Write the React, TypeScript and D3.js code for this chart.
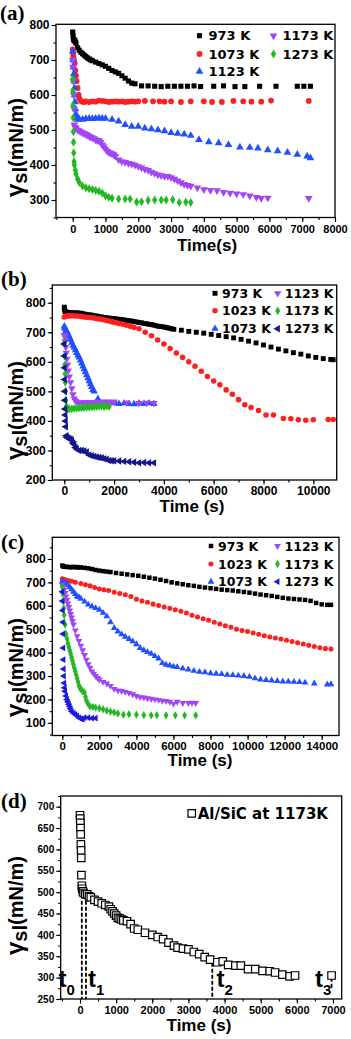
import * as d3 from "d3";
import React, { useEffect, useRef } from "react";

type Pt = [number, number];

// ---------- panel (a) ----------
const a973: Pt[] = [[0,780],[10,770],[20,760],[40,755],[60,757],[80,752],[100,748],[150,735],[200,728],[250,722],[300,718],[350,714],[400,710],[450,706],[500,703],[550,700],[600,698],[700,694],[800,690],[900,686],[1000,682],[1100,676],[1200,670],[1300,666],[1400,662],[1500,655],[1600,648],[1700,640],[1800,634],[1900,632],[2100,626],[2300,626],[2500,625],[2700,624],[2900,625],[3100,625],[3300,625],[3500,625],[3700,626],[3900,624],[4300,625],[4600,626],[4950,624],[5250,624],[5700,625],[6200,625],[6850,625],[7050,625],[7250,625]];
const a1073: Pt[] = [[0,730],[10,720],[20,710],[40,700],[60,690],[80,670],[100,655],[120,640],[150,620],[180,600],[200,590],[250,583],[300,581],[350,580],[400,582],[500,580],[600,582],[700,581],[800,584],[900,583],[1000,582],[1100,580],[1200,581],[1300,582],[1400,581],[1500,582],[1600,580],[1700,581],[1800,582],[1900,581],[2000,582],[2200,583],[2450,582],[2650,582],[2800,581],[3000,582],[3300,580],[3600,582],[4000,582],[4250,580],[4550,580],[4900,583],[5200,582],[5450,581],[5750,581],[6050,584],[7200,583]];
const a1123: Pt[] = [[0,725],[10,700],[20,680],[30,660],[40,640],[50,620],[60,600],[70,580],[80,560],[100,545],[120,535],[150,530],[200,531],[300,530],[400,532],[500,533],[600,532],[700,533],[800,534],[900,533],[1000,533],[1200,530],[1400,525],[1600,515],[1800,510],[2000,510],[2200,505],[2400,503],[2600,500],[2800,497],[3000,492],[3200,490],[3400,488],[3600,484],[3850,472],[4150,466],[4450,463],[4750,458],[5100,451],[5400,450],[5650,448],[5950,443],[6250,440],[6550,436],[6850,430],[7150,425],[7250,420]];
const a1173: Pt[] = [[0,700],[10,680],[20,640],[30,600],[40,560],[50,515],[70,508],[100,505],[150,500],[200,498],[250,495],[300,492],[350,490],[400,488],[450,485],[500,482],[550,480],[600,478],[650,476],[700,472],[750,470],[800,470],[850,465],[900,458],[950,452],[1000,446],[1050,440],[1100,436],[1150,434],[1200,432],[1250,430],[1300,425],[1400,415],[1500,410],[1600,408],[1700,405],[1800,403],[1900,400],[2000,396],[2100,392],[2200,388],[2300,385],[2400,380],[2500,376],[2600,372],[2700,370],[2800,368],[2900,368],[3000,364],[3100,360],[3200,355],[3300,350],[3400,345],[3500,342],[3600,340],[3800,335],[4000,330],[4200,328],[4400,327],[4600,322],[4800,320],[5000,318],[5200,316],[5400,312],[5600,308],[5750,305],[5950,306],[7200,305]];
const a1273: Pt[] = [[0,645],[5,610],[10,570],[15,535],[20,495],[25,465],[30,435],[40,410],[50,400],[80,385],[100,375],[150,360],[200,350],[300,340],[400,335],[500,332],[600,330],[700,327],[800,325],[900,320],[1000,312],[1100,308],[1200,305],[1400,303],[1600,303],[1750,303],[1950,294],[2100,295],[2300,299],[2500,300],[2700,300],[2850,300],[3050,301],[3250,293],[3450,294],[3600,293]];

// ---------- panel (b) ----------
const b973: Pt[] = [[0,785],[10,778],[20,772],[50,770],[100,768],[150,767],[200,767],[300,766],[400,766],[500,766],[600,765],[700,764],[800,762],[900,760],[1000,759],[1100,758],[1200,756],[1300,755],[1400,753],[1500,752],[1600,750],[1700,749],[1800,748],[1900,747],[2000,746],[2100,745],[2200,744],[2300,743],[2400,742],[2500,740],[2600,739],[2700,738],[2800,736],[2900,735],[3000,733],[3100,732],[3200,730],[3300,729],[3400,727],[3500,726],[3600,724],[3700,722],[3800,720],[3900,719],[4000,718],[4100,716],[4200,714],[4300,712],[4400,710],[4700,707],[5000,703],[5300,700],[5600,697],[5900,693],[6200,689],[6500,685],[6800,681],[7100,676],[7400,670],[7700,664],[8000,657],[8300,650],[8600,643],[8900,637],[9200,631],[9500,626],[9800,620],[10100,615],[10400,611],[10700,608],[10800,607]];
const b1023: Pt[] = [[0,752],[50,754],[100,755],[150,756],[200,755],[300,756],[400,755],[500,755],[600,754],[700,753],[800,752],[900,751],[1000,750],[1100,749],[1200,748],[1300,746],[1400,745],[1500,744],[1600,742],[1700,740],[1800,738],[1900,736],[2000,734],[2100,732],[2200,730],[2350,727],[2500,724],[2650,720],[2800,716],[3000,712],[3250,700],[3500,688],[3750,674],[4000,660],[4250,645],[4500,630],[4750,615],[5000,600],[5250,585],[5500,568],[5750,550],[6000,535],[6250,522],[6500,505],[6750,490],[7000,472],[7250,455],[7500,445],[7800,435],[8100,420],[8400,420],[8800,408],[9100,407],[9400,404],[9700,402],[10000,404],[10600,405],[10800,405]];
const b1073: Pt[] = [[0,720],[20,715],[50,710],[80,705],[120,700],[160,692],[200,685],[250,675],[300,665],[350,655],[400,648],[450,640],[500,630],[550,622],[600,615],[650,605],[700,595],[750,585],[800,575],[850,565],[900,555],[950,545],[1000,535],[1050,525],[1100,515],[1150,505],[1200,500],[1350,475],[2050,460],[2200,458],[2400,460],[2600,458],[2800,457],[3000,460],[3200,458],[3400,460],[3600,458]];
const b1123: Pt[] = [[0,690],[20,685],[40,670],[60,650],[80,630],[100,610],[130,590],[160,570],[200,550],[250,530],[300,510],[350,490],[400,475],[450,468],[500,464],[600,462],[700,462],[800,463],[900,462],[1000,463],[1100,462],[1200,463],[1300,464],[1400,464],[1500,464],[1600,464],[1700,464],[1800,464],[1900,464],[2000,464],[2500,462],[3000,460],[3300,461],[3600,460]];
const b1173: Pt[] = [[0,665],[10,620],[20,590],[30,560],[40,530],[50,500],[60,470],[80,450],[100,440],[150,442],[200,440],[300,441],[400,442],[500,443],[600,444],[700,444],[800,445],[900,446],[1000,447],[1100,447],[1200,448],[1300,448],[1400,449],[1500,450],[1600,448],[1700,450],[1800,448]];
const b1273: Pt[] = [[0,660],[5,620],[10,580],[15,540],[20,500],[25,470],[30,440],[40,420],[50,400],[60,380],[80,350],[100,345],[150,342],[200,340],[250,338],[300,335],[350,325],[400,320],[450,310],[500,305],[600,300],[700,300],[800,298],[900,295],[1000,285],[1100,282],[1200,280],[1300,278],[1400,276],[1500,275],[1600,272],[1700,270],[1800,266],[1900,265],[2000,265],[2200,264],[2400,263],[2600,262],[2800,260],[3000,258],[3200,259],[3400,258],[3600,258]];

// ---------- panel (c) ----------
const c973: Pt[] = [[0,772],[50,768],[100,767],[200,766],[300,766],[400,765],[500,765],[600,766],[700,765],[800,765],[900,764],[1000,764],[1200,762],[1400,760],[1600,757],[1800,753],[2000,750],[2200,748],[2400,746],[2600,744],[2900,740],[3200,737],[3500,734],[3800,731],[4100,728],[4400,724],[4700,720],[5000,716],[5300,711],[5600,706],[5900,700],[6200,696],[6500,692],[6800,688],[7100,685],[7400,681],[7700,678],[8000,675],[8300,672],[8600,669],[8900,667],[9200,665],[9500,662],[9800,659],[10100,656],[10400,652],[10700,648],[11000,645],[11300,642],[11600,638],[11900,634],[12200,631],[12500,629],[12800,627],[13100,625],[13400,621],[13700,612],[14000,606],[14300,604],[14500,604]];
const c1023: Pt[] = [[0,715],[100,712],[200,710],[350,707],[500,705],[700,700],[1000,695],[1250,690],[1500,685],[1750,678],[2000,672],[2250,668],[2500,665],[2800,658],[3100,652],[3400,647],[3700,640],[4000,628],[4300,620],[4600,615],[4900,607],[5200,601],[5500,595],[5800,589],[6100,583],[6400,577],[6700,569],[7000,560],[7300,552],[7600,545],[7900,538],[8200,530],[8500,522],[8800,515],[9100,508],[9400,500],[9700,494],[10000,490],[10300,484],[10600,478],[10900,472],[11200,467],[11500,462],[11800,458],[12100,453],[12400,447],[12700,442],[13000,437],[13300,431],[13600,426],[13900,421],[14200,417],[14500,415]];
const c1073: Pt[] = [[0,705],[50,700],[100,700],[200,695],[300,690],[400,680],[500,670],[600,660],[700,650],[800,640],[900,637],[1000,630],[1200,618],[1400,605],[1600,597],[1800,590],[2000,583],[2200,570],[2400,555],[2600,530],[2800,505],[3000,490],[3200,478],[3400,468],[3600,458],[3800,448],[4000,436],[4200,420],[4400,410],[4600,402],[4800,395],[5000,385],[5200,375],[5400,355],[5600,348],[5800,345],[6000,340],[6200,338],[6500,332],[6800,328],[7100,322],[7400,318],[7700,316],[8000,312],[8300,310],[8600,308],[8900,305],[9200,304],[9500,302],[9800,300],[10100,297],[10400,290],[10700,285],[11000,283],[11300,281],[11600,279],[11900,277],[12200,276],[12500,275],[12800,274],[13100,272],[13600,268],[14300,264],[14500,265]];
const c1123: Pt[] = [[0,690],[50,682],[100,670],[150,655],[200,640],[250,625],[300,610],[350,595],[400,580],[450,565],[500,550],[550,535],[600,520],[700,495],[800,470],[900,450],[1000,430],[1100,410],[1200,390],[1300,370],[1400,350],[1500,335],[1600,320],[1700,310],[1800,300],[1900,292],[2000,285],[2200,275],[2400,268],[2600,258],[2800,245],[3000,238],[3200,236],[3400,232],[3600,228],[3800,222],[4000,215],[4200,210],[4400,208],[4600,205],[4800,203],[5000,200],[5200,198],[5400,195],[5600,193],[5800,190],[6000,182],[6200,190],[6500,185],[6800,185],[7000,186],[7200,185]];
const c1173: Pt[] = [[0,680],[25,650],[50,620],[75,590],[100,560],[150,520],[200,480],[250,460],[300,440],[350,425],[400,410],[450,395],[500,380],[550,365],[600,350],[650,335],[700,320],[750,305],[800,290],[850,275],[900,260],[950,250],[1000,245],[1100,235],[1200,230],[1250,210],[1300,195],[1400,180],[1500,170],[1650,168],[1800,165],[2000,162],[2200,158],[2400,152],[2600,148],[2800,145],[3000,140],[3300,135],[3600,137],[4000,135],[4400,133],[4800,132],[5100,133],[5600,132],[6100,132],[6600,132],[7200,132]];
const c1273: Pt[] = [[0,660],[10,620],[20,580],[30,530],[40,480],[50,420],[60,370],[70,330],[80,300],[100,270],[125,250],[150,235],[200,215],[250,200],[300,190],[350,180],[400,170],[450,160],[500,150],[600,142],[700,136],[800,130],[900,122],[1000,118],[1100,115],[1200,122],[1400,122],[1600,120],[1800,120]];

// ---------- panel (d) ----------
const dAlSiC: Pt[] = [[0,680],[5,672],[10,662],[15,650],[20,635],[25,612],[30,598],[35,580],[40,540],[50,515],[60,508],[80,502],[100,498],[150,495],[200,495],[250,490],[300,488],[400,482],[500,478],[600,474],[700,470],[800,466],[850,460],[900,455],[950,450],[1000,445],[1050,440],[1100,438],[1150,436],[1200,434],[1300,432],[1400,425],[1500,415],[1600,412],[1800,405],[2000,400],[2150,395],[2300,390],[2450,382],[2600,375],[2700,370],[2850,368],[3000,366],[3150,360],[3300,355],[3450,348],[3600,342],[3800,336],[3950,338],[4100,330],[4300,328],[4450,328],[4650,320],[4850,320],[5050,316],[5250,315],[5400,312],[5600,307],[5800,303],[5950,305],[6960,305]];
const dGuideT = [50, 165, 3660, 6960];
const dGuideTop = [480, 480, 335, 300];
const dGuideBottom = [250, 250, 250, 272];
const dGuideNames = ["0", "1", "2", "3"];

// ticks
const aXTicks = [0, 1000, 2000, 3000, 4000, 5000, 6000, 7000, 8000];
const aYTicks = [300, 400, 500, 600, 700, 800];
const bXTicks = [0, 2000, 4000, 6000, 8000, 10000];
const bYTicks = [200, 300, 400, 500, 600, 700, 800];
const cXTicks = [0, 2000, 4000, 6000, 8000, 10000, 12000, 14000];
const cYTicks = [100, 200, 300, 400, 500, 600, 700, 800];
const dXTicks = [0, 1000, 2000, 3000, 4000, 5000, 6000, 7000];
const dYTicks = [250, 300, 350, 400, 450, 500, 550, 600, 650, 700];

const SANS = "'Liberation Sans', Arial, sans-serif";
const WIDE = "'DejaVu Sans', sans-serif";
const SERIF = "'Liberation Serif', 'Times New Roman', serif";

const BLACK = "#000000";
const RED = "#ff1f1f";
const BLUE = "#2250ff";
const PURPLE = "#a146f5";
const GREEN = "#22b822";
const NAVY = "#16168c";
const BLUE2 = "#1a1ae0";

const symTypes: Record<string, d3.SymbolType> = {
  square: d3.symbolSquare,
  circle: d3.symbolCircle,
  up: d3.symbolTriangle,
  down: d3.symbolTriangle,
  left: d3.symbolTriangle,
  diamond: d3.symbolDiamond,
};
const symRot: Record<string, number> = { square: 0, circle: 0, up: 0, down: 180, left: -90, diamond: 0 };
const fmt = d3.format("d");

function drawPanel(svg: any, cfg: any) {
  const { box } = cfg;
  const x = d3.scaleLinear().domain(cfg.xDomain).range([box.l, box.r]);
  const y = d3.scaleLinear().domain(cfg.yDomain).range([box.b, box.t]);
  const g = svg.append("g");

  // minor ticks
  const xm = d3.range(Math.ceil(cfg.xDomain[0] / cfg.xMinor) * cfg.xMinor, cfg.xDomain[1] + 1, cfg.xMinor);
  const ym = d3.range(Math.ceil(cfg.yDomain[0] / cfg.yMinor) * cfg.yMinor, cfg.yDomain[1] + 1, cfg.yMinor);
  g.append("g")
    .attr("transform", `translate(0,${box.b})`)
    .call(d3.axisBottom(x).tickValues(xm).tickSize(2.5).tickFormat(() => ""))
    .call((s: any) => s.select(".domain").remove());
  g.append("g")
    .attr("transform", `translate(${box.l},0)`)
    .call(d3.axisLeft(y).tickValues(ym).tickSize(2.5).tickFormat(() => ""))
    .call((s: any) => s.select(".domain").remove());

  // major ticks
  const xa = g.append("g")
    .attr("transform", `translate(0,${box.b})`)
    .call(d3.axisBottom(x).tickValues(cfg.xTicks).tickFormat(fmt).tickSize(4.5).tickPadding(cfg.xPad));
  xa.select(".domain").remove();
  xa.selectAll("text").attr("font-family", SANS).attr("font-weight", "bold").attr("font-size", cfg.xFont).attr("fill", "#000");
  const ya = g.append("g")
    .attr("transform", `translate(${box.l},0)`)
    .call(d3.axisLeft(y).tickValues(cfg.yTicks).tickFormat(fmt).tickSize(4.5).tickPadding(cfg.yPad));
  ya.select(".domain").remove();
  ya.selectAll("text").attr("font-family", SANS).attr("font-weight", "bold").attr("font-size", cfg.yFont).attr("fill", "#000");
  g.selectAll(".tick line").attr("stroke", "#000").attr("stroke-width", 1.1);

  // frame
  g.append("rect")
    .attr("x", box.l).attr("y", box.t)
    .attr("width", box.r - box.l).attr("height", box.b - box.t)
    .attr("fill", "none").attr("stroke", "#000").attr("stroke-width", 1.3);

  // guide lines (panel d)
  if (cfg.guides) {
    cfg.guides.t.forEach((t: number, i: number) => {
      g.append("line")
        .attr("x1", x(t)).attr("x2", x(t))
        .attr("y1", y(cfg.guides.top[i])).attr("y2", y(cfg.guides.bottom[i]))
        .attr("stroke", "#000").attr("stroke-width", 1.8).attr("stroke-dasharray", "4,2");
    });
  }

  // series
  cfg.series.forEach((s: any) => {
    const path = d3.symbol().type(symTypes[s.shape]).size(s.size)();
    g.append("g").selectAll("path")
      .data(s.data)
      .join("path")
      .attr("d", path)
      .attr("transform", (d: Pt) => `translate(${x(d[0])},${y(d[1])}) rotate(${symRot[s.shape]})`)
      .attr("fill", s.open ? "#fff" : s.color)
      .attr("stroke", s.open ? s.color : "none")
      .attr("stroke-width", s.open ? 1.2 : 0);
  });

  // legend
  const lg = cfg.legend;
  cfg.series.forEach((s: any, i: number) => {
    const pos = lg.pos[i];
    const mx = lg.cols[pos[0]];
    const my = lg.rows[pos[1]];
    const path = d3.symbol().type(symTypes[s.shape]).size(s.size)();
    g.append("path")
      .attr("d", path)
      .attr("transform", `translate(${mx},${my}) rotate(${symRot[s.shape]})`)
      .attr("fill", s.open ? "#fff" : s.color)
      .attr("stroke", s.open ? s.color : "none")
      .attr("stroke-width", s.open ? 1.2 : 0);
    g.append("text")
      .attr("x", mx + lg.gap).attr("y", my + lg.font * 0.36)
      .attr("font-family", WIDE).attr("font-weight", "bold").attr("font-size", lg.font)
      .text(s.name);
  });

  // panel label
  svg.append("text")
    .attr("x", cfg.label[1]).attr("y", cfg.label[2])
    .attr("font-family", SERIF).attr("font-weight", "bold").attr("font-size", 21)
    .text(cfg.label[0]);

  // x title
  svg.append("text")
    .attr("x", cfg.xTitle[1]).attr("y", cfg.xTitle[2])
    .attr("text-anchor", "middle")
    .attr("font-family", SANS).attr("font-weight", "bold").attr("font-size", 17)
    .text(cfg.xTitle[0]);

  // y title
  const yt = svg.append("text")
    .attr("transform", `translate(${cfg.yTitle[0]},${cfg.yTitle[1]}) rotate(-90)`)
    .attr("font-family", SANS).attr("font-weight", "bold").attr("font-size", 20);
  yt.append("tspan").attr("font-size", 24).text("γ");
  yt.append("tspan").attr("dy", 4).text("sl");
  yt.append("tspan").attr("dy", -4).text("(mN/m)");

  return { x, y };
}

export default function App() {
  const svgRef = useRef<SVGSVGElement>(null);

  useEffect(() => {
    const svg = d3.select(svgRef.current);
    svg.selectAll("*").remove();

    drawPanel(svg, {
      box: { l: 56, r: 335, t: 24.3, b: 217.5 },
      xDomain: [-510, 8000], yDomain: [250, 802],
      xTicks: aXTicks, yTicks: aYTicks, xMinor: 500, yMinor: 50,
      xFont: 11, yFont: 12, xPad: 3, yPad: 2,
      label: ["(a)", 0, 20],
      xTitle: ["Time(s)", 207, 251],
      yTitle: [23, 197],
      legend: { cols: [199.5, 273.5], rows: [35.7, 54, 71.5], gap: 9, font: 13, pos: [[0, 0], [0, 1], [0, 2], [1, 0], [1, 1]] },
      series: [
        { name: "973 K", data: a973, shape: "square", size: 26, color: BLACK },
        { name: "1073 K", data: a1073, shape: "circle", size: 26, color: RED },
        { name: "1123 K", data: a1123, shape: "up", size: 26, color: BLUE },
        { name: "1173 K", data: a1173, shape: "down", size: 26, color: PURPLE },
        { name: "1273 K", data: a1273, shape: "diamond", size: 24, color: GREEN },
      ],
    });

    drawPanel(svg, {
      box: { l: 52.3, r: 336.7, t: 285, b: 480 },
      xDomain: [-482, 10940], yDomain: [200, 860],
      xTicks: bXTicks, yTicks: bYTicks, xMinor: 1000, yMinor: 50,
      xFont: 12, yFont: 12, xPad: 1.5, yPad: 2,
      label: ["(b)", 1, 286],
      xTitle: ["Time (s)", 192, 512],
      yTitle: [23, 460],
      legend: { cols: [215, 277.7], rows: [293.3, 310.8, 328.7], gap: 7, font: 12.5, pos: [[0, 0], [0, 1], [0, 2], [1, 0], [1, 1], [1, 2]] },
      series: [
        { name: "973 K", data: b973, shape: "square", size: 24, color: BLACK },
        { name: "1023 K", data: b1023, shape: "circle", size: 24, color: RED },
        { name: "1073 K", data: b1073, shape: "up", size: 24, color: BLUE },
        { name: "1123 K", data: b1123, shape: "down", size: 24, color: PURPLE },
        { name: "1173 K", data: b1173, shape: "diamond", size: 22, color: GREEN },
        { name: "1273 K", data: b1273, shape: "left", size: 24, color: NAVY },
      ],
    });

    drawPanel(svg, {
      box: { l: 52.3, r: 339, t: 537.3, b: 735.5 },
      xDomain: [-540, 14933], yDomain: [46, 892.5],
      xTicks: cXTicks, yTicks: cYTicks, xMinor: 1000, yMinor: 50,
      xFont: 11.5, yFont: 12, xPad: 2, yPad: 2,
      label: ["(c)", 1, 549],
      xTitle: ["Time (s)", 200, 766],
      yTitle: [23, 717],
      legend: { cols: [211, 277.5], rows: [546, 564, 581.7], gap: 7, font: 12.5, pos: [[0, 0], [0, 1], [0, 2], [1, 0], [1, 1], [1, 2]] },
      series: [
        { name: "973 K", data: c973, shape: "square", size: 20, color: BLACK },
        { name: "1023 K", data: c1023, shape: "circle", size: 20, color: RED },
        { name: "1073 K", data: c1073, shape: "up", size: 20, color: BLUE },
        { name: "1123 K", data: c1123, shape: "down", size: 20, color: PURPLE },
        { name: "1173 K", data: c1173, shape: "diamond", size: 20, color: GREEN },
        { name: "1273 K", data: c1273, shape: "left", size: 20, color: BLUE2 },
      ],
    });

    drawPanel(svg, {
      box: { l: 60.7, r: 341.7, t: 796, b: 999 },
      xDomain: [-534, 7241], yDomain: [250, 725],
      xTicks: dXTicks, yTicks: dYTicks, xMinor: 500, yMinor: 25,
      xFont: 11, yFont: 10, xPad: 3, yPad: 2,
      label: ["(d)", 1, 808],
      xTitle: ["Time (s)", 199, 1031],
      yTitle: [23, 955],
      guides: { t: dGuideT, top: dGuideTop, bottom: dGuideBottom },
      legend: { cols: [191.7], rows: [813.3], gap: 6, font: 15, pos: [[0, 0]] },
      series: [
        { name: "Al/SiC at 1173K", data: dAlSiC, shape: "square", size: 56, color: BLACK, open: true },
      ],
    });

    // t labels for panel (d)
    const tLabelX = [58.5, 88, 216.5, 315];
    dGuideNames.forEach((n, i) => {
      const t = svg.append("text")
        .attr("x", tLabelX[i]).attr("y", 986.7)
        .attr("font-family", SANS).attr("font-weight", "bold").attr("font-size", 24);
      t.append("tspan").text("t");
      t.append("tspan").attr("font-size", 15).attr("dy", 8).text(n);
    });
  }, []);

  return (
    <svg
      ref={svgRef}
      width={351}
      height={1039}
      style={{ position: "absolute", left: 0, top: 0, background: "#fff" }}
    />
  );
}
